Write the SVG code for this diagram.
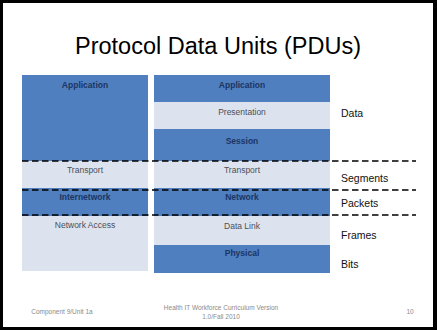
<svg xmlns="http://www.w3.org/2000/svg" width="437" height="330" viewBox="0 0 437 330">
  <defs>
    <style>
      .blue { fill: #4f7fbf; }
      .light { fill: #dde3ee; }
      .ltxt { font-family: "Liberation Sans", Arial, sans-serif; font-size: 8.5px; text-anchor: middle; }
      .onblue { fill: #1c3563; font-weight: bold; }
      .onlight { fill: #4a4f58; }
      .pdu { font-family: "Liberation Sans", Arial, sans-serif; font-size: 10.5px; fill: #111; }
      .foot { font-family: "Liberation Sans", Arial, sans-serif; font-size: 6.5px; fill: #8a8a8a; }
      .dash { stroke: #000; stroke-width: 1.5; stroke-dasharray: 6.5 3.5; fill: none; }
    </style>
  </defs>

  <!-- slide frame -->
  <rect x="0" y="0" width="437" height="330" fill="#000"/>
  <rect x="3" y="3" width="430" height="324" fill="#fff"/>

  <text x="218" y="54" font-family="Liberation Sans, Arial, sans-serif" font-size="23.5" text-anchor="middle" fill="#000">Protocol Data Units (PDUs)</text>

  <!-- TCP/IP model column -->
  <g id="tcpip-application"><rect class="blue" x="22" y="75" width="126" height="86"/><text class="ltxt onblue" x="85" y="87.5">Application</text></g>
  <g id="tcpip-transport"><rect class="light" x="22" y="161" width="126" height="27"/><text class="ltxt onlight" x="85" y="172.5">Transport</text></g>
  <g id="tcpip-internetwork"><rect class="blue" x="22" y="188" width="126" height="28"/><text class="ltxt onblue" x="85" y="200">Internetwork</text></g>
  <g id="tcpip-netaccess"><rect class="light" x="22" y="216" width="126" height="55"/><text class="ltxt onlight" x="85" y="227.5">Network Access</text></g>

  <!-- OSI model column -->
  <g id="osi-application"><rect class="blue" x="154" y="75" width="176" height="27"/><text class="ltxt onblue" x="242" y="87.5">Application</text></g>
  <g id="osi-presentation"><rect class="light" x="154" y="102" width="176" height="27"/><text class="ltxt onlight" x="242" y="115">Presentation</text></g>
  <g id="osi-session"><rect class="blue" x="154" y="129" width="176" height="32"/><text class="ltxt onblue" x="242" y="144">Session</text></g>
  <g id="osi-transport"><rect class="light" x="154" y="161" width="176" height="27"/><text class="ltxt onlight" x="242" y="172.5">Transport</text></g>
  <g id="osi-network"><rect class="blue" x="154" y="188" width="176" height="28"/><text class="ltxt onblue" x="242" y="200">Network</text></g>
  <g id="osi-datalink"><rect class="light" x="154" y="216" width="176" height="29"/><text class="ltxt onlight" x="242" y="228.5">Data Link</text></g>
  <g id="osi-physical"><rect class="blue" x="154" y="245" width="176" height="28"/><text class="ltxt onblue" x="242" y="256">Physical</text></g>

  <!-- PDU names -->
  <g id="pdu-labels">
    <text class="pdu" x="341" y="117">Data</text>
    <text class="pdu" x="341" y="182">Segments</text>
    <text class="pdu" x="341" y="207">Packets</text>
    <text class="pdu" x="341" y="239">Frames</text>
    <text class="pdu" x="341" y="268">Bits</text>
  </g>

  <!-- layer boundary lines -->
  <g id="connectors">
    <line class="dash" x1="22" y1="161" x2="416" y2="161"/>
    <line class="dash" x1="22" y1="190" x2="416" y2="190"/>
    <line class="dash" x1="22" y1="215" x2="416" y2="215"/>
  </g>

  <!-- footer -->
  <text class="foot" x="62" y="314" text-anchor="middle">Component 9/Unit 1a</text>
  <text class="foot" x="221" y="310" text-anchor="middle">Health IT Workforce Curriculum Version</text>
  <text class="foot" x="221" y="319" text-anchor="middle">1.0/Fall 2010</text>
  <text class="foot" x="410" y="314" text-anchor="middle">10</text>
</svg>
